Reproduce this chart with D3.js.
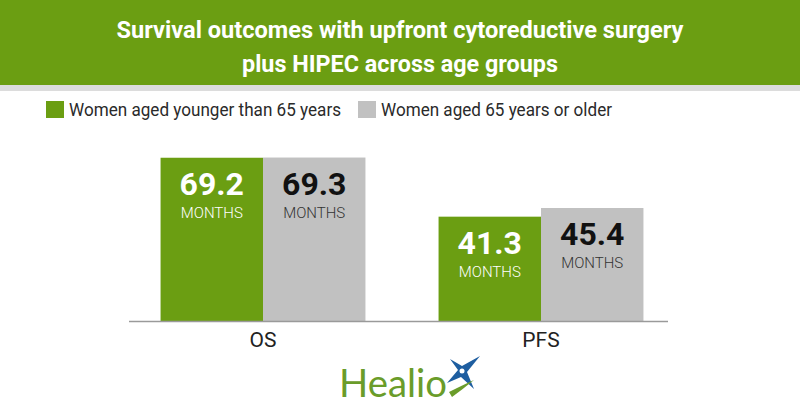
<!DOCTYPE html>
<html>
<head>
<meta charset="utf-8">
<script src="https://cdn.jsdelivr.net/npm/d3@7"></script>
<style>
  html, body { margin: 0; padding: 0; background: #fff; }
  svg { display: block; }
</style>
</head>
<body>
<svg id="chart" width="800" height="420"></svg>
<script>
// ---- data ----
const categories = ["OS", "PFS"];
const seriesNames = ["Women aged younger than 65 years", "Women aged 65 years or older"];
const youngerValues = [69.2, 41.3];
const olderValues = [69.3, 45.4];
const unitLabel = "MONTHS";
const titleLines = ["Survival outcomes with upfront cytoreductive surgery", "plus HIPEC across age groups"];

const GREEN = "#6b9e12";
const GRAY = "#c1c1c1";
const colors = [GREEN, GRAY];
const labelColors = ["#ffffff", "#111111"];

const svg = d3.select("#chart");
const W = 800, H = 420;

// header
svg.append("rect").attr("x", 0).attr("y", 0).attr("width", W).attr("height", 85).attr("fill", GREEN);
svg.append("rect").attr("x", 0).attr("y", 85).attr("width", W).attr("height", 6).attr("fill", "#dcdcdc");
const titleW = [567, 316];
titleLines.forEach((t, i) => {
  svg.append("text")
    .attr("x", 400).attr("y", 38 + i * 33.5)
    .attr("text-anchor", "middle")
    .attr("font-family", "Roboto, 'Liberation Sans', sans-serif")
    .attr("font-weight", 700)
    .attr("font-size", 23)
    .attr("fill", "#ffffff")
    .attr("textLength", titleW[i])
    .attr("lengthAdjust", "spacingAndGlyphs")
    .text(t);
});

// legend
const legendX = [46, 358];
const legendW = [272, 231];
seriesNames.forEach((s, i) => {
  svg.append("rect").attr("x", legendX[i]).attr("y", 101).attr("width", 18).attr("height", 17).attr("fill", colors[i]);
  svg.append("text")
    .attr("x", legendX[i] + 23).attr("y", 116)
    .attr("font-family", "Roboto, sans-serif")
    .attr("font-size", 18)
    .attr("fill", "#2a2a2a")
    .attr("textLength", legendW[i])
    .attr("lengthAdjust", "spacingAndGlyphs")
    .text(s);
});

// scales
const x0 = d3.scaleBand().domain(categories).range([124, 680]).paddingInner(0.263).paddingOuter(0.1315);
const x1 = d3.scaleBand().domain([0, 1]).range([0, x0.bandwidth()]);
const y = d3.scaleLinear().domain([-8.1, 72]).range([321, 321 - 2.112 * 80.1]);

const data = categories.map((c, i) => ({ cat: c, vals: [youngerValues[i], olderValues[i]] }));

const groups = svg.selectAll("g.grp").data(data).enter().append("g")
  .attr("class", "grp")
  .attr("transform", d => `translate(${x0(d.cat)},0)`);

groups.selectAll("rect").data(d => d.vals.map((v, k) => ({ v, k }))).enter().append("rect")
  .attr("x", d => x1(d.k))
  .attr("y", d => y(d.v))
  .attr("width", x1.bandwidth())
  .attr("height", d => y.range()[0] - y(d.v))
  .attr("fill", d => colors[d.k]);

groups.selectAll("text.val").data(d => d.vals.map((v, k) => ({ v, k }))).enter().append("text")
  .attr("class", "val")
  .attr("x", d => x1(d.k) + x1.bandwidth() / 2)
  .attr("y", d => y(d.v) + 37)
  .attr("text-anchor", "middle")
  .attr("font-family", "Roboto, sans-serif")
  .attr("font-weight", 700)
  .attr("font-size", 32)
  .attr("fill", d => labelColors[d.k])
  .text(d => d3.format(".1f")(d.v));

groups.selectAll("text.unit").data(d => d.vals.map((v, k) => ({ v, k }))).enter().append("text")
  .attr("class", "unit")
  .attr("x", d => x1(d.k) + x1.bandwidth() / 2)
  .attr("y", d => y(d.v) + 60)
  .attr("text-anchor", "middle")
  .attr("font-family", "Roboto, sans-serif")
  .attr("font-weight", 300)
  .attr("font-size", 15)
  .attr("fill", d => d.k === 0 ? "#ffffff" : "#333333")
  .text(unitLabel);

// axis
const axis = svg.append("g").attr("transform", "translate(0,321)")
  .call(d3.axisBottom(x0).tickSize(0).tickPadding(11));
axis.select(".domain").attr("d", "M129,0.5H668").attr("stroke", "#9a9a9a").attr("stroke-width", 1.5);
axis.selectAll(".tick text")
  .attr("font-family", "Roboto, sans-serif")
  .attr("font-size", 21)
  .attr("fill", "#222222");

// Healio logo
const logo = svg.append("g");
logo.append("text")
  .attr("x", 339).attr("y", 397)
  .attr("font-family", "Lato, 'Open Sans', sans-serif")
  .attr("font-size", 39)
  .attr("fill", "#6a9c2a")
  .attr("textLength", 108)
  .attr("lengthAdjust", "spacingAndGlyphs")
  .text("Healio");
// star mark
logo.append("path")
  .attr("d", "M480,356 L467,372 L474,389 L461,377 L447,383 L458,370 L450,359 L462,366 Z")
  .attr("fill", "#1e5ea0");
logo.append("path")
  .attr("d", "M449,392 Q463,385 474,380 Q463,389 452,397 Z")
  .attr("fill", "#6a9c2a");
logo.append("circle").attr("cx", 462).attr("cy", 371).attr("r", 2.5).attr("fill", "#ffffff");
</script>
</body>
</html>
